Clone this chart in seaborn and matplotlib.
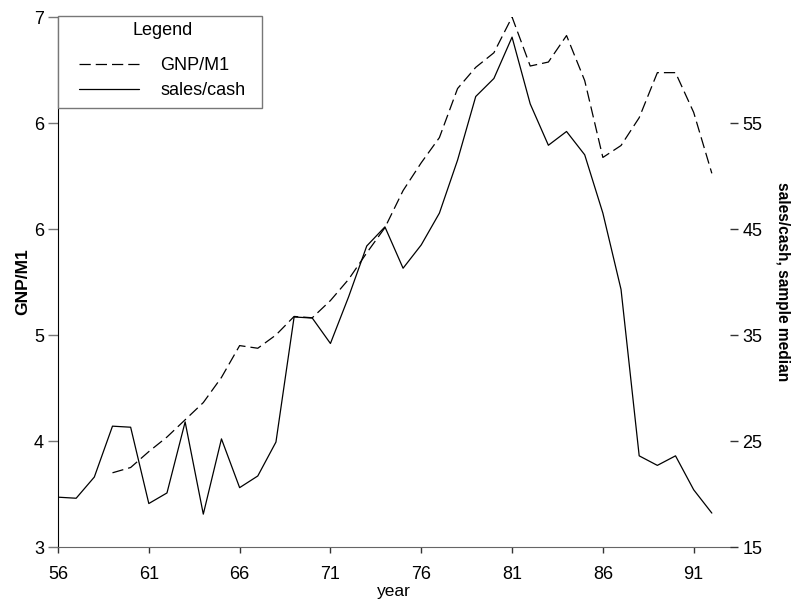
import numpy as np
import seaborn as sns
import matplotlib
matplotlib.use("Agg")
import matplotlib.pyplot as plt
from matplotlib.lines import Line2D
from matplotlib.patches import Rectangle

# data
years = list(range(56, 93))
sales_cash = [19.7, 19.6, 21.6, 26.4, 26.3, 19.1, 20.1, 26.8, 18.1, 25.2,
              20.6, 21.7, 24.9, 36.7, 36.6, 34.2, 38.6, 43.4, 45.2, 41.3,
              43.5, 46.5, 51.5, 57.5, 59.2, 63.1, 56.8, 52.9, 54.2, 52.0,
              46.5, 39.3, 23.6, 22.7, 23.6, 20.4, 18.2]
gnp_years = list(range(59, 93))
gnp_m1 = [3.56, 3.60, 3.72, 3.83, 3.96, 4.09, 4.28, 4.52, 4.50, 4.60,
          4.74, 4.73, 4.86, 5.02, 5.22, 5.41, 5.69, 5.90, 6.09, 6.46,
          6.62, 6.73, 7.00, 6.63, 6.66, 6.86, 6.52, 5.94, 6.03, 6.24,
          6.58, 6.58, 6.28, 5.82]
x_ticks = [56, 61, 66, 71, 76, 81, 86, 91]
left_ticks = [3.0, 3.8, 4.6, 5.4, 6.2, 7.0]
left_labels = ["3", "4", "5", "6", "6", "7"]
right_ticks = [15, 25, 35, 45, 55]

sns.set_style("ticks")
plt.rcParams['font.family'] = ['Liberation Sans', 'DejaVu Sans']
plt.rcParams['text.color'] = 'black'
plt.rcParams['axes.labelcolor'] = 'black'
plt.rcParams['xtick.labelcolor'] = 'black'
plt.rcParams['ytick.labelcolor'] = 'black'

dash = (0, (9, 4))
W, H = 795, 604

fig = plt.figure(figsize=(7.95, 6.04), dpi=100)
ax = fig.add_axes([58/W, 1 - 547/H, (730 - 58)/W, (547 - 17)/H])
ax2 = ax.twinx()

sns.lineplot(x=gnp_years, y=gnp_m1, ax=ax, color='black', linewidth=0.9)
ax.lines[-1].set_linestyle(dash)
sns.lineplot(x=years, y=sales_cash, ax=ax2, color='black', linewidth=0.9)

ax.set_xlim(56, 93)
ax.set_ylim(3, 7)
ax2.set_ylim(15, 65)
ax.set_xticks(x_ticks)
ax.set_yticks(left_ticks)
ax.set_yticklabels(left_labels)
ax2.set_yticks(right_ticks)

for a in (ax, ax2):
    a.spines['top'].set_visible(False)
    a.spines['right'].set_visible(False)
ax2.spines['left'].set_visible(False)
ax2.spines['bottom'].set_visible(False)
ax.spines['left'].set_color('black')
ax.spines['bottom'].set_color('#666666')

ax.tick_params(axis='y', length=7, width=1, color='#777777', labelsize=13, pad=3)
ax.tick_params(axis='x', length=4.5, width=1, color='#333333', labelsize=13, pad=9)
ax2.tick_params(axis='y', length=6, width=1, color='#333333', labelsize=13, pad=3)

ax.set_xlabel('year', fontsize=12.5)
ax.xaxis.set_label_coords(0.5, -0.07)
ax.set_ylabel('GNP/M1', fontsize=12.5, fontweight='bold', labelpad=3)
ax2.set_ylabel('sales/cash, sample median', fontsize=11.2, fontweight='bold',
               rotation=270, labelpad=20)

# legend frame and contents
frame = Rectangle((58/W, 1 - 108/H), 204/W, 92/H, transform=fig.transFigure,
                  facecolor='white', edgecolor='#777777', lw=1.0, zorder=4)
fig.add_artist(frame)
handles = [Line2D([], [], color='black', lw=0.9, linestyle=dash),
           Line2D([], [], color='black', lw=0.9)]
leg = fig.legend(handles, ['GNP/M1', 'sales/cash'], title='Legend',
                 loc='upper left', bbox_to_anchor=(79/W, 1 - 22/H),
                 bbox_transform=fig.transFigure, borderaxespad=0,
                 fontsize=13, title_fontsize=13, handlelength=3.3,
                 handletextpad=1.2, borderpad=0, labelspacing=0.45,
                 frameon=False)
leg.set_zorder(6)
leg._legend_box.sep = 13

fig.savefig('out.png', dpi=100)
